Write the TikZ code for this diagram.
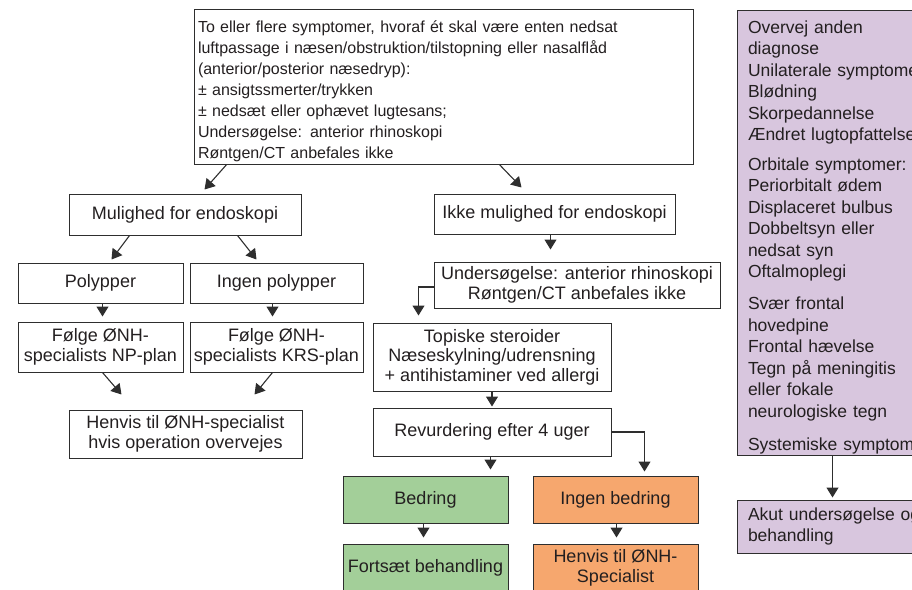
\documentclass[tikz,border=0pt]{standalone}
\usepackage{fontspec}
\setmainfont{Liberation Sans}
\usetikzlibrary{arrows.meta,calc}
\definecolor{linec}{HTML}{2E2E2E}
\definecolor{txtc}{HTML}{231F20}
\definecolor{greenf}{HTML}{A3CF99}
\definecolor{orangef}{HTML}{F6A76E}
\definecolor{purplef}{HTML}{D8C6DE}
\newcommand\fsmain{\fontsize{18}{19.5}\selectfont}
\newcommand\fstopbox{\fontsize{16}{21}\selectfont}
\newcommand\fspurple{\fontsize{17.5}{21.5}\selectfont}
\begin{document}
\begin{tikzpicture}[x=1pt,y=-1pt,
  box/.style={draw=linec,line width=1pt,inner sep=2pt,align=center,font=\fsmain,text=txtc},
  arr/.style={draw=linec,line width=1.1pt,-{Triangle[width=12pt,length=10pt]}},
]
\useasboundingbox (0,0) rectangle (912,589);
\clip (0,0) rectangle (912,589);

\node[box,align=left,font=\fstopbox,text width=491pt,inner xsep=4pt,minimum height=154pt] (top) at (443.5,87)
 {\rule{0pt}{21pt}To eller flere symptomer, hvoraf ét skal være enten nedsat\\
  luftpassage i næsen/obstruktion/tilstopning eller nasalflåd\\
  (anterior/posterior næsedryp):\\
  ± ansigtssmerter/trykken\\
  ± nedsæt eller ophævet lugtesans;\\
  Undersøgelse: anterior rhinoskopi\\
  Røntgen/CT anbefales ikke};

\node[box,minimum width=232pt,minimum height=41pt] (mul) at (185,214.5) {Mulighed for endoskopi};
\node[box,minimum width=241pt,minimum height=40pt] (ikke) at (554.5,214) {Ikke mulighed for endoskopi};
\node[box,minimum width=165pt,minimum height=40pt] (poly) at (100.5,283) {Polypper};
\node[box,minimum width=173pt,minimum height=40pt] (ingen) at (276.5,283) {Ingen polypper};
\node[box,minimum width=165pt,minimum height=50pt] (np) at (100.5,347) {Følge ØNH-\\specialists NP-plan};
\node[box,minimum width=173pt,minimum height=50pt] (krs) at (276.5,347) {Følge ØNH-\\specialists KRS-plan};
\node[box,minimum width=233pt,minimum height=48pt] (henvis) at (185.5,434) {Henvis til ØNH-specialist\\hvis operation overvejes};
\node[box,minimum width=286pt,minimum height=46pt] (und) at (577,285) {Undersøgelse: anterior rhinoskopi\\Røntgen/CT anbefales ikke};
\node[box,minimum width=238pt,minimum height=68pt] (topi) at (492,357) {Topiske steroider\\Næseskylning/udrensning\\+ antihistaminer ved allergi};
\node[box,minimum width=238pt,minimum height=48pt] (rev) at (492,432) {Revurdering efter 4 uger};
\node[box,fill=greenf,minimum width=165pt,minimum height=47pt] (bed) at (425.5,499.5) {Bedring};
\node[box,fill=orangef,minimum width=165pt,minimum height=47pt] (ingbed) at (615.5,499.5) {Ingen bedring};
\node[box,fill=greenf,minimum width=165pt,minimum height=48pt] (forts) at (425.5,568) {Fortsæt behandling};
\node[box,fill=orangef,minimum width=165pt,minimum height=48pt] (hen2) at (615.5,568) {Henvis til ØNH-\\Specialist};

\node[box,fill=purplef,align=left,font=\fspurple,text width=200pt,inner xsep=11pt,minimum height=444pt] (purp) at (848,233)
 {\rule{0pt}{21pt}Overvej anden\\diagnose\\Unilaterale symptomer\\Blødning\\Skorpedannelse\\Ændret lugtopfattelse\\[8pt]
  Orbitale symptomer:\\Periorbitalt ødem\\Displaceret bulbus\\Dobbeltsyn eller\\nedsat syn\\Oftalmoplegi\\[10.5pt]
  Svær frontal\\hovedpine\\Frontal hævelse\\Tegn på meningitis\\eller fokale\\neurologiske tegn\\[11.5pt]
  Systemiske symptomer};
\node[box,fill=purplef,align=left,font=\fspurple,text width=200pt,inner xsep=11pt,minimum height=53pt] (akut) at (848,526.5)
 {Akut undersøgelse og\\behandling};

\draw[arr] ($(top.south west)+(33,0)$) -- ($(mul.north west)+(136,-4)$);
\draw[arr] ($(top.south west)+(306,0)$) -- ($(ikke.north west)+(88,-6)$);
\draw[arr] ($(mul.south west)+(61,0)$) -- ($(poly.north west)+(94,-3)$);
\draw[arr] ($(mul.south west)+(169,0)$) -- ($(ingen.north west)+(67,-3)$);
\draw[arr] ($(poly.south west)+(85,0)$) -- ($(np.north west)+(85,-5)$);
\draw[arr] ($(ingen.south west)+(83,0)$) -- ($(krs.north west)+(83,-5)$);
\draw[arr] ($(np.south west)+(85,0)$) -- ($(henvis.north west)+(53,-15)$);
\draw[arr] ($(krs.south west)+(83,0)$) -- ($(henvis.north west)+(186,-15)$);
\draw[arr] ($(ikke.south west)+(117,0)$) -- ($(und.north west)+(117,-12)$);
\draw[arr] ($(und.west)+(0,2)$) -| ($(topi.north west)+(46,-7)$);
\draw[arr,shorten >=1pt] (topi.south) -- (rev.north);
\draw[arr] ($(rev.south west)+(118,0)$) -- ($(bed.north west)+(148,-6)$);
\draw[arr] (rev.east) -| ($(ingbed.north west)+(112,-4)$);
\draw[arr] ($(bed.south west)+(81,0)$) -- ($(forts.north west)+(81,-6)$);
\draw[arr] ($(ingbed.south west)+(84,0)$) -- ($(hen2.north west)+(84,-6)$);
\draw[arr] ($(purp.south west)+(96,0)$) -- ($(akut.north west)+(96,-2)$);
\end{tikzpicture}
\end{document}
